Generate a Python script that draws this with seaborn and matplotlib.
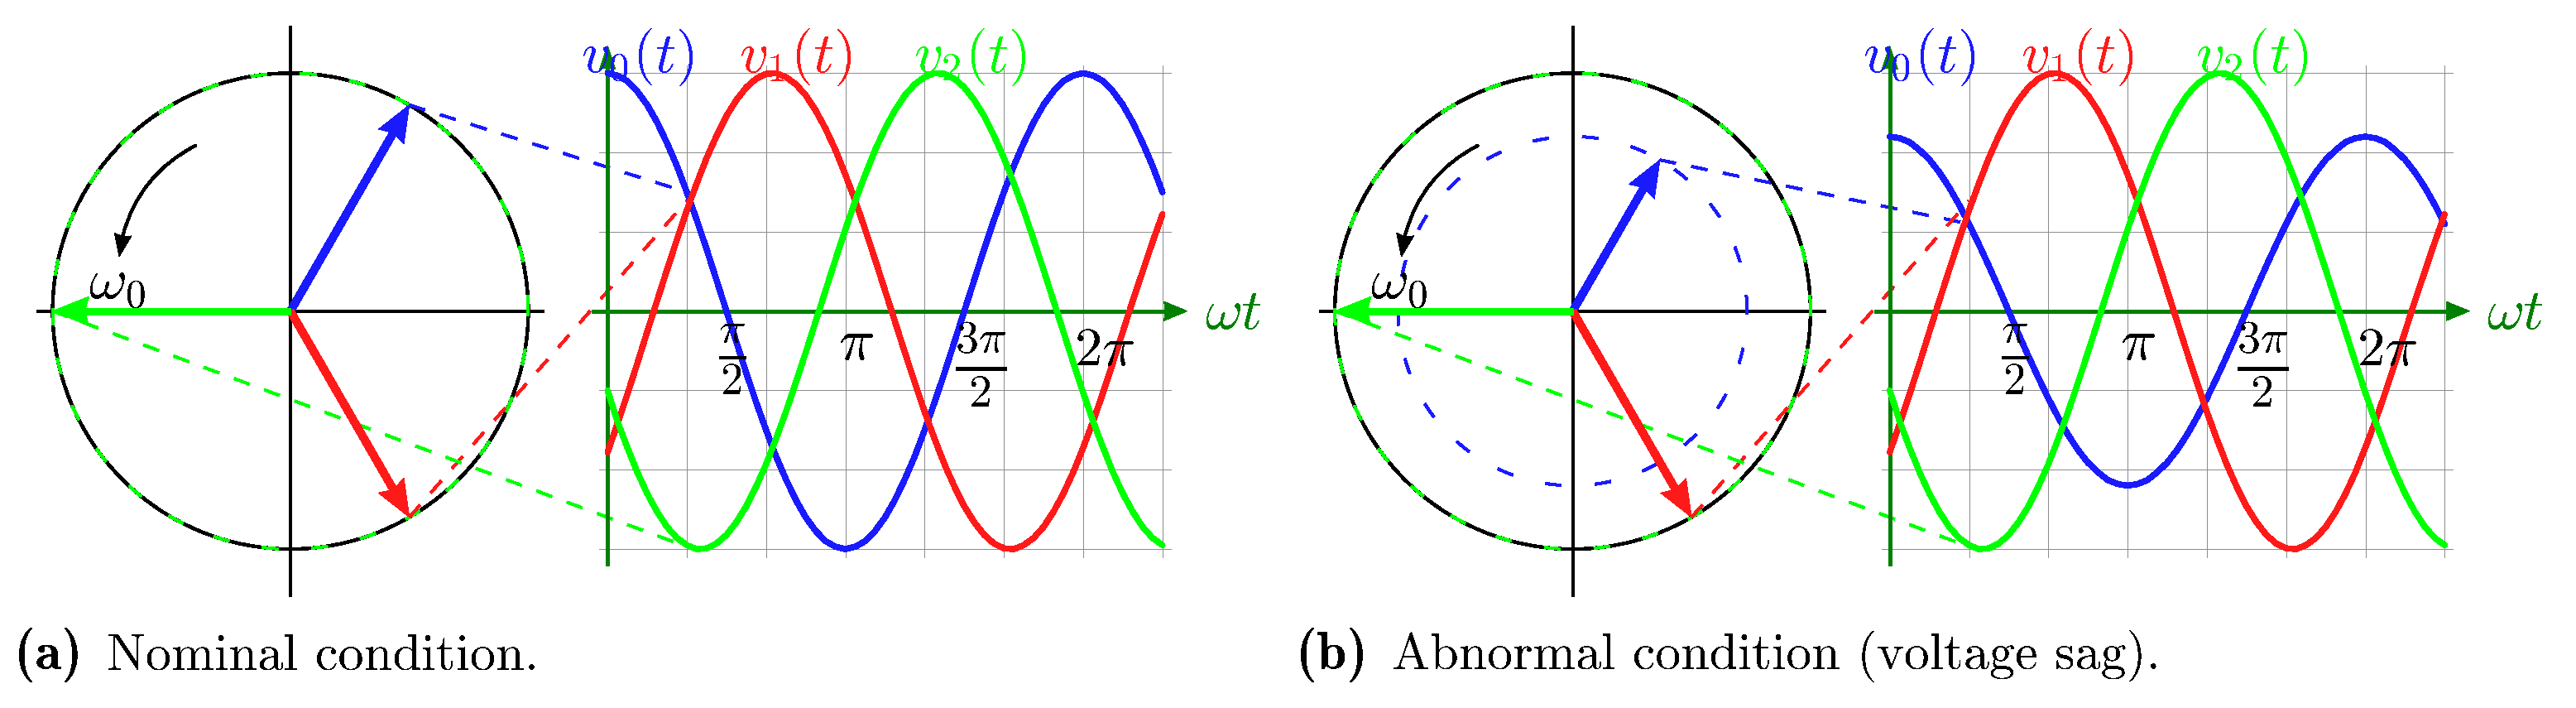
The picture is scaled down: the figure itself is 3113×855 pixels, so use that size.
import numpy as np
import pandas as pd
import matplotlib
matplotlib.use("Agg")
import matplotlib.pyplot as plt
from matplotlib.patches import Arc, FancyArrowPatch, Polygon
import seaborn as sns

# ---- data (grid units) ----
wave_x = [0, .125, .25, .375, .5, .625, .75, .875, 1, 1.125, 1.25, 1.375, 1.5, 1.625, 1.75, 1.875,
          2, 2.125, 2.25, 2.375, 2.5, 2.625, 2.75, 2.875, 3, 3.125, 3.25, 3.375, 3.5, 3.625, 3.75, 3.875,
          4, 4.125, 4.25, 4.375, 4.5, 4.625, 4.75, 4.875, 5, 5.125, 5.25, 5.375, 5.5, 5.625, 5.75, 5.875,
          6, 6.125, 6.25, 6.375, 6.5, 6.625, 6.75, 6.875, 7]
v0_nominal = [3, 2.97, 2.90, 2.77, 2.60, 2.38, 2.12, 1.83, 1.50, 1.15, .78, .39, 0,
              -.39, -.78, -1.15, -1.50, -1.83, -2.12, -2.38, -2.60, -2.77, -2.90, -2.97, -3,
              -2.97, -2.90, -2.77, -2.60, -2.38, -2.12, -1.83, -1.50, -1.15, -.78, -.39, 0,
              .39, .78, 1.15, 1.50, 1.83, 2.12, 2.38, 2.60, 2.77, 2.90, 2.97, 3,
              2.97, 2.90, 2.77, 2.60, 2.38, 2.12, 1.83, 1.50]
v0_sag = [2.2, 2.18, 2.13, 2.03, 1.91, 1.75, 1.56, 1.34, 1.10, .84, .57, .29, 0,
          -.29, -.57, -.84, -1.10, -1.34, -1.56, -1.75, -1.91, -2.03, -2.13, -2.18, -2.2,
          -2.18, -2.13, -2.03, -1.91, -1.75, -1.56, -1.34, -1.10, -.84, -.57, -.29, 0,
          .29, .57, .84, 1.10, 1.34, 1.56, 1.75, 1.91, 2.03, 2.13, 2.18, 2.2,
          2.18, 2.13, 2.03, 1.91, 1.75, 1.56, 1.34, 1.10]
v1_wave = [-1.78, -1.42, -1.05, -.66, -.26, .13, .52, .90, 1.27, 1.61, 1.93, 2.21, 2.46, 2.66, 2.82, 2.93,
           2.99, 3.0, 2.95, 2.86, 2.72, 2.53, 2.30, 2.03, 1.72, 1.39, 1.03, .65, .26, -.13, -.52, -.90,
           -1.27, -1.61, -1.93, -2.21, -2.46, -2.66, -2.82, -2.93, -2.99, -3.0, -2.95, -2.86, -2.72, -2.53,
           -2.30, -2.03, -1.72, -1.39, -1.03, -.65, -.26, .13, .50, .87, 1.22]
v2_wave = [-1.0, -1.39, -1.72, -2.03, -2.30, -2.53, -2.72, -2.86, -2.95, -3.0, -2.99, -2.93, -2.82, -2.66,
           -2.46, -2.21, -1.93, -1.61, -1.27, -.90, -.52, -.13, .26, .65, 1.03, 1.39, 1.72, 2.03, 2.30, 2.53,
           2.72, 2.86, 2.95, 3.0, 2.99, 2.93, 2.82, 2.66, 2.46, 2.21, 1.93, 1.61, 1.27, .90, .52, .13, -.26,
           -.65, -1.03, -1.39, -1.72, -2.03, -2.30, -2.53, -2.72, -2.86, -2.95]
phasor_angle_deg = [60, -60, 180]
phasor_len_nominal = [3, 3, 3]
phasor_len_sag = [2.2, 3, 3]
dash_end_y_nominal = [1.5, 1.39, -2.97]
dash_end_y_sag = [1.1, 1.39, -2.97]
grid_x = [0, 1, 2, 3, 4, 5, 6, 7]
grid_y = [-3, -2, -1, 1, 2, 3]
captions = [("(a)", "Nominal condition."), ("(b)", "Abnormal condition (voltage sag).")]
tick_labels = [r"$\frac{\pi}{2}$", r"$\pi$", r"$\frac{3\pi}{2}$", r"$2\pi$"]
series_labels = [r"$v_0(t)$", r"$v_1(t)$", r"$v_2(t)$"]

# ---- styles ----
BLUE, RED, GREEN, DKGREEN = "#1a1aff", "#ff1a1a", "#00ff00", "#008000"
COLORS = [BLUE, RED, GREEN]
PX = 0.72  # points per pixel at dpi 100
U = 95.8   # pixels per grid unit
CX, CY = 351.0, 375.7  # centre of circle in panel pixels
W0 = 4.0   # wave origin offset
R = 3.0
FIG_W, FIG_H = 3113, 855
PANEL_B_X = 1549.5

sns.set_theme(style="white")
plt.rcParams["mathtext.fontset"] = "cm"
plt.rcParams["lines.scale_dashes"] = False
plt.rcParams["axes.unicode_minus"] = False
plt.rcParams["lines.antialiased"] = False
plt.rcParams["patch.antialiased"] = False
plt.rcParams["text.antialiased"] = False


def P(x, y):
    return (x - CX) / U, (CY - y) / U


def head(ax, tip, direction, length, width, color, notch=0.12, z=5):
    d = np.array(direction, float)
    d /= np.hypot(*d)
    n = np.array([-d[1], d[0]])
    t = np.array(tip, float)
    pts = [t, t - d * length + n * width / 2, t - d * length * (1 - notch),
           t - d * length - n * width / 2]
    ax.add_patch(Polygon(pts, closed=True, fc=color, ec="none", zorder=z, clip_on=False))


def line(ax, xs, ys, color, lw_px, z=2, **kw):
    ax.plot(xs, ys, color=color, lw=lw_px * PX, zorder=z, clip_on=False,
            solid_capstyle=kw.pop("cap", "butt"), dash_capstyle="butt", **kw)


def draw_panel(ax, width_px, v0, lens, dash_ends, cap, cap_x2, cap_fs, sag):
    ax.set_xlim(-CX / U, (width_px - CX) / U)
    ax.set_ylim(-(FIG_H - CY) / U, CY / U)
    ax.axis("off")

    # grid of the wave plot
    gx0, gx1 = W0 - 10 / U, W0 + 7 + 10 / U
    gy0, gy1 = -3 - 9.5 / U, 3 + 9.5 / U
    ax.hlines(grid_y, gx0, gx1, color="#8c8c8c", lw=0.9 * PX, zorder=1)
    ax.vlines([W0 + g for g in grid_x[1:]], gy0, gy1, color="#8c8c8c", lw=0.9 * PX, zorder=1)

    # projection lines
    on, off = 20 * PX, 20 * PX
    for ang, ln, ye, c in zip(phasor_angle_deg, lens, dash_ends, COLORS):
        a = np.radians(ang)
        tip = (ln * np.cos(a), ln * np.sin(a))
        line(ax, [tip[0], W0 + 1], [tip[1], ye], c, 3.0, z=3, dashes=(on, off))

    # circle axes
    line(ax, [-3.2, 3.2], [0, 0], "black", 3.6, z=2)
    line(ax, [0, 0], [-3.6, 3.6], "black", 3.6, z=2)

    # circle with green dashes on top
    ax.add_patch(Arc((0, 0), 2 * R, 2 * R, theta1=0, theta2=360, ec="black", lw=3.4 * PX, zorder=2.5))
    ax.add_patch(Arc((0, 0), 2 * R, 2 * R, theta1=0, theta2=360, ec=GREEN, lw=3.4 * PX, zorder=2.6,
                     linestyle=(0, (20 * PX, 40.2 * PX))))
    if sag:
        ax.add_patch(Arc((0, 0), 4.4, 4.4, theta1=0, theta2=360, ec=BLUE, lw=3.0 * PX, zorder=2.6,
                         linestyle=(0, (20 * PX, 40.2 * PX))))

    # phasors
    for ang, ln, c in zip(phasor_angle_deg, lens, COLORS):
        a = np.radians(ang)
        tip = np.array([ln * np.cos(a), ln * np.sin(a)])
        u = tip / np.hypot(*tip)
        base = tip - u * 0.40
        line(ax, [0, base[0]], [0, base[1]], c, 9, z=4)
        head(ax, tip, u, 0.46, 0.37, c)

    # rotation arrow
    ax.add_patch(FancyArrowPatch(P(236, 176), P(148.5, 284), connectionstyle="arc3,rad=0.22",
                                 arrowstyle="-", color="black", lw=3.2 * PX, zorder=4,
                                 shrinkA=0, shrinkB=0))
    tipx, tipy = P(144, 310)
    bx, by = P(148.5, 284)
    head(ax, (tipx, tipy), (tipx - bx, tipy - by), 0.285, 0.22, "black", notch=0.1)

    # wave axes
    line(ax, [W0 - 19 / U, W0 + 7 + 20 / U], [0, 0], DKGREEN, 4.5, z=3)
    line(ax, [W0, W0], [-3 - 20 / U, 3 + 10 / U], DKGREEN, 4.5, z=3)
    head(ax, (W0 + 7 + 30 / U, 0), (1, 0), 28 / U, 23 / U, DKGREEN, notch=0.03)
    head(ax, (W0, 3 + 33 / U), (0, 1), 28 / U, 19 / U, DKGREEN, notch=0.03)

    # waves
    xs = np.array(wave_x) + W0
    for ys, c in zip([v0, v1_wave, v2_wave], COLORS):
        sns.lineplot(x=xs, y=ys, ax=ax, color=c, linewidth=6.5 * PX, sort=False,
                     estimator=None, legend=False, zorder=6, clip_on=False)

    # labels
    FS = 50
    for s, c, xc in zip(series_labels, COLORS, [770, 961, 1172]):
        ax.text(*P(xc, 87), s, color=c, fontsize=FS, ha="center", va="baseline", zorder=7)
    ax.text(*P(141, 361), r"$\omega_0$", color="black", fontsize=51, ha="center", va="baseline", zorder=7)
    ax.text(*P(1490, 397), r"$\omega t$", color=DKGREEN, fontsize=FS, ha="center", va="baseline", zorder=7)
    for s, xc, yc, fs in zip(tick_labels, [885, 1034.5, 1185, 1335], [434, 415, 441, 422], [56, 52, 58, 48]):
        ax.text(*P(xc, yc), s, color="black", fontsize=fs, ha="center", va="center", zorder=7)

    # caption
    ax.text(*P(17, 808), cap[0], family="cmb10", fontsize=47, color="black", ha="left", va="baseline")
    ax.text(*P(cap_x2, 808), cap[1], family="cmr10", fontsize=cap_fs, color="black", ha="left", va="baseline")


fig = plt.figure(figsize=(FIG_W / 100, FIG_H / 100), dpi=100, facecolor="white")
ax_a = fig.add_axes([0, 0, PANEL_B_X / FIG_W, 1])
ax_b = fig.add_axes([PANEL_B_X / FIG_W, 0, 1 - PANEL_B_X / FIG_W, 1])
draw_panel(ax_a, PANEL_B_X, v0_nominal, phasor_len_nominal, dash_end_y_nominal, captions[0], 129, 45, False)
draw_panel(ax_b, FIG_W - PANEL_B_X, v0_sag, phasor_len_sag, dash_end_y_sag, captions[1], 133, 44.6, True)
fig.savefig("out.png", dpi=100)
